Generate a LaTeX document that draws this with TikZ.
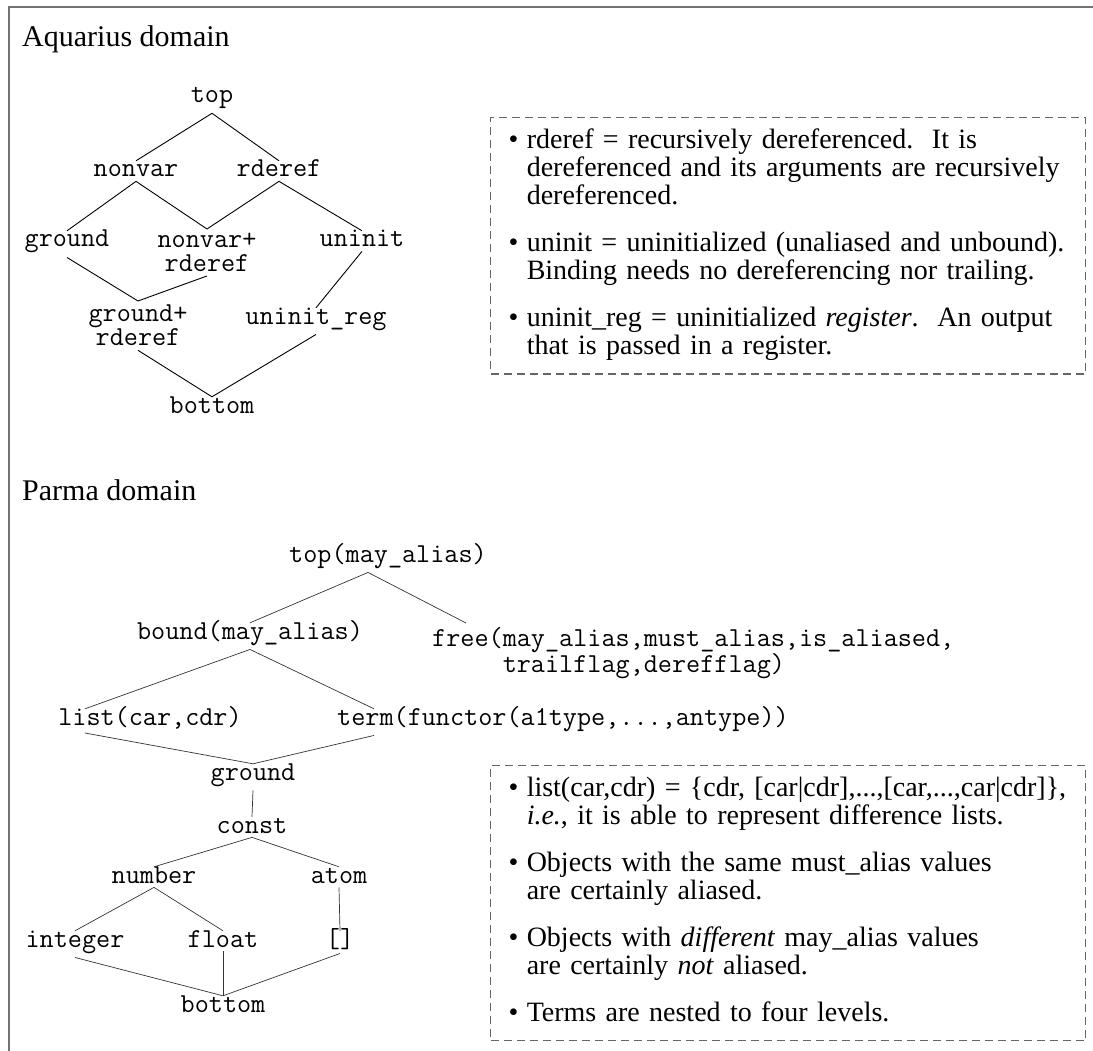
\documentclass[tikz,border=0pt]{standalone}
\usepackage{fontspec}
\setmainfont{Liberation Serif}
\usetikzlibrary{positioning}
\tikzset{
    lat/.style={
           font=\ttfamily\fontsize{27.4}{24}\selectfont,
           inner xsep=0pt, inner ysep=4pt,
           text height=12pt,
           },
    lattwo/.style={
           font=\ttfamily\fontsize{27.4}{24}\selectfont,
           inner xsep=0pt, inner ysep=4pt,
           },
    title/.style={
           font=\fontsize{30}{30}\selectfont,
           anchor=base west, inner sep=0pt,
           },
    notebox/.style={
           draw=black!60, line width=1.1pt,
           dash pattern=on 8pt off 5pt,
           font=\fontsize{28}{28}\selectfont,
           text width=559pt, align=left,
           inner xsep=18pt, inner ysep=11pt,
           anchor=north west,
           },
    aqline/.style={line width=0.9pt},
    pmline/.style={line width=0.7pt, black!80},
    frame/.style={line width=1.5pt, black!55},
}

\begin{document}
\begin{tikzpicture}[x=1pt, y=-1pt]
  \useasboundingbox (0,0) rectangle (1093,1051);
  \coordinate (FrameTL) at (9,7);
  \coordinate (FrameTR) at (1093,7);
  \coordinate (FrameBL) at (9,1051);
  \draw[frame] (FrameTR) -- (FrameTL) -- (FrameBL);

  % Aquarius lattice
  \node[title] (AqTitle) at (22,47) {Aquarius domain};
  \node[lat, anchor=base]   (Top)          at (212,103) {top};
  \node[lat, anchor=base]   (Nonvar)       at (136,177) {nonvar};
  \node[lat, anchor=base]   (Rderef)       at (279,177) {rderef};
  \node[lat, anchor=base]   (Ground)       at (67,247)  {ground};
  \node[lattwo, align=center, anchor=north] (NonvarRderef) at (207,229) {nonvar+\\rderef};
  \node[lat, anchor=base]   (Uninit)       at (362,247) {uninit};
  \node[lattwo, align=center, anchor=north] (GroundRderef) at (138,301) {ground+\\rderef};
  \node[lat, anchor=base]   (UninitReg)    at (316,324) {uninit\_reg};
  \node[lat, anchor=base]   (Bottom)       at (212,413) {bottom};

  \draw[aqline] (Top.south)          -- (Nonvar.north);
  \draw[aqline] (Top.south)          -- (Rderef.north);
  \draw[aqline] (Nonvar.south)       -- (Ground.north);
  \draw[aqline] (Nonvar.south)       -- (NonvarRderef.north);
  \draw[aqline] (Rderef.south)       -- (NonvarRderef.north);
  \draw[aqline] (Rderef.south)       -- (Uninit.north);
  \draw[aqline] (Ground.south)       -- (GroundRderef.north);
  \draw[aqline] (NonvarRderef.south) -- (GroundRderef.north);
  \draw[aqline] (Uninit.south)       -- (UninitReg.north);
  \draw[aqline] (GroundRderef.south) -- (Bottom.north);
  \draw[aqline] (UninitReg.south)    -- (Bottom.north);

  \node[notebox] (AqNotes) at (490,117) {%
    \begin{tabular}{@{}l@{\hspace{0.3em}}l@{}}
      \textbullet & rderef = recursively dereferenced.\ \ It is\\
                  & dereferenced and its arguments are recursively\\
                  & dereferenced.\\[19pt]
      \textbullet & uninit = uninitialized (unaliased and unbound).\\
                  & Binding needs no dereferencing nor trailing.\\[19pt]
      \textbullet & uninit\_reg = uninitialized \textit{register}.\ \ An output\\
                  & that is passed in a register.
    \end{tabular}};

  % Parma lattice
  \node[title] (PmTitle) at (22,500) {Parma domain};
  \node[lat, anchor=base]   (TopMay)   at (388,562) {top(may\_alias)};
  \node[lat, anchor=base]   (Bound)    at (250,639) {bound(may\_alias)};
  \node[lattwo, align=left, anchor=north west] (Free) at (432,623)
       {free(may\_alias,must\_alias,is\_aliased,\\\phantom{free(}trailflag,derefflag)};
  \node[lat, anchor=base]   (List)     at (150,725) {list(car,cdr)};
  \node[lat, anchor=base west] (Term)  at (337,725) {term(functor(a1type,...,antype))};
  \node[lat, anchor=base]   (PGround)  at (253,780) {ground};
  \node[lat, anchor=base]   (Const)    at (252,833) {const};
  \node[lat, anchor=base]   (Number)   at (154,883) {number};
  \node[lat, anchor=base]   (Atom)     at (339,883) {atom};
  \node[lat, anchor=base]   (Integer)  at (75,947)  {integer};
  \node[lat, anchor=base]   (Float)    at (223,947) {float};
  \node[lat, anchor=base]   (Nil)      at (340,947) {[]};
  \node[lat, anchor=base]   (PBottom)  at (223,1012) {bottom};

  \draw[pmline] ([xshift=-20pt]TopMay.south) -- (Bound.north);
  \draw[pmline] ([xshift=-20pt]TopMay.south) -- ([xshift=34pt]Free.north west);
  \draw[pmline] (Bound.south)   -- ([xshift=-65pt]List.north);
  \draw[pmline] (Bound.south)   -- ([xshift=37pt]Term.north west);
  \draw[pmline] ([xshift=-65pt]List.south) -- (PGround.north);
  \draw[pmline] ([xshift=37pt]Term.south west) -- (PGround.north);
  \draw[pmline] (PGround.south) -- (Const.north);
  \draw[pmline] (Const.south)   -- (Number.north);
  \draw[pmline] (Const.south)   -- (Atom.north);
  \draw[pmline] (Number.south)  -- (Integer.north);
  \draw[pmline] (Number.south)  -- (Float.north);
  \draw[pmline] (Atom.south)    -- (Nil.north);
  \draw[pmline] (Integer.south) -- (PBottom.north);
  \draw[pmline] (Float.south)   -- (PBottom.north);
  \draw[pmline] (Nil.south)     -- (PBottom.north);

  \node[notebox] (PmNotes) at (490,765) {%
    \begin{tabular}{@{}l@{\hspace{0.3em}}l@{}}
      \textbullet & list(car,cdr) = \{cdr, [car|cdr],...,[car,...,car|cdr]\},\\
                  & \textit{i.e.}, it is able to represent difference lists.\\[19pt]
      \textbullet & Objects with the same must\_alias values\\
                  & are certainly aliased.\\[19pt]
      \textbullet & Objects with \textit{different} may\_alias values\\
                  & are certainly \textit{not} aliased.\\[19pt]
      \textbullet & Terms are nested to four levels.
    \end{tabular}};
\end{tikzpicture}
\end{document}
